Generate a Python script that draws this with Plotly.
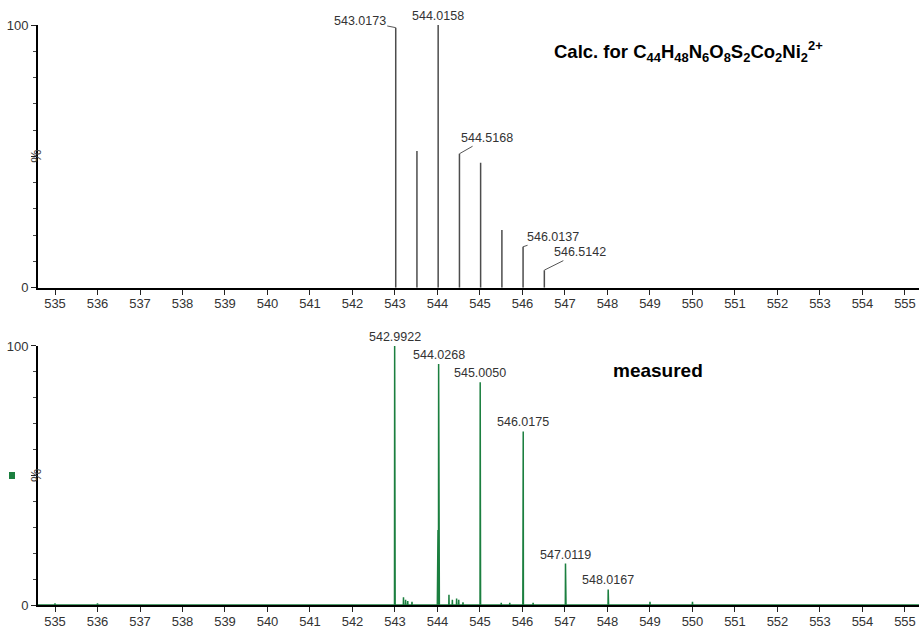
import plotly.graph_objects as go

# ---------------- data ----------------
calc_mz = [543.0173, 543.5166, 544.0158, 544.5168, 545.0149, 545.5155, 546.0137, 546.5142]
calc_int = [99, 52, 100, 51, 47.6, 22, 15.6, 6.7]
calc_labels = ["543.0173", "", "544.0158", "544.5168", "", "", "546.0137", "546.5142"]

meas_mz = [535.00, 536.00, 542.9922, 543.000, 543.20, 543.25, 543.30, 543.40,
           544.000, 544.012, 544.0268, 544.040, 544.27, 544.35, 544.45, 544.50, 544.60,
           545.0050, 545.010, 545.50, 545.70, 546.0120, 546.0175, 546.25,
           547.0119, 547.020, 548.0167, 548.022, 549.00, 550.00]
meas_int = [0.6, 0.6, 100, 4, 3, 2, 1.5, 1.2,
            12, 29, 93, 17, 4, 2, 2.5, 2, 1,
            86, 46, 0.8, 0.8, 52, 67, 0.8,
            16, 11, 6, 4, 1.2, 1.2]
meas_labels = {542.9922: "542.9922", 544.0268: "544.0268", 545.0050: "545.0050",
               546.0175: "546.0175", 547.0119: "547.0119", 548.0167: "548.0167"}

x_ticks = list(range(535, 556))
x_range = [534.6, 555.33]

GRAY = "#4d4d4d"
GREEN = "#1b7f3f"
TXT = "#333333"
FONT = "Liberation Sans, Arial, sans-serif"
NARROW = "Liberation Sans Narrow, Arial Narrow, Liberation Sans, Arial, sans-serif"

# ---------------- traces ----------------
sx, sy = [], []
for m, h in zip(calc_mz, calc_int):
    sx += [m, m, None]
    sy += [0, h, None]

pairs = sorted(zip(meas_mz, meas_int))
w = 0.004
px, py = [x_range[0]], [0]
for m, h in pairs:
    px += [m - w, m, m + w]
    py += [0, h, 0]
px.append(x_range[1])
py.append(0)

fig = go.Figure()
fig.add_trace(go.Scatter(x=sx, y=sy, mode="lines", line=dict(color=GRAY, width=1.5),
                         xaxis="x", yaxis="y", hoverinfo="skip", showlegend=False, cliponaxis=False))
fig.add_trace(go.Scatter(x=px, y=py, mode="lines", line=dict(color=GREEN, width=1.5),
                         xaxis="x2", yaxis="y2", hoverinfo="skip", showlegend=False, cliponaxis=False))

axis_x = dict(range=x_range, tickmode="array", tickvals=x_ticks, ticktext=[str(t) for t in x_ticks],
              ticks="outside", ticklen=5, tickwidth=1, tickcolor="#222", showline=True,
              linecolor="black", linewidth=2, showgrid=False, zeroline=False, automargin=False,
              ticklabelstandoff=-2,
              tickfont=dict(family=FONT, size=13, color=TXT), layer="below traces")
axis_y = dict(range=[0, 100], tickmode="array", tickvals=[0, 50, 100], ticktext=["0", " ", "100"],
              ticks="outside", ticklen=5, tickwidth=1, tickcolor="#222", showline=True,
              linecolor="black", linewidth=2, showgrid=False, zeroline=False, automargin=False,
              tickfont=dict(family=FONT, size=13, color=TXT),
              minor=dict(tickvals=[10, 20, 30, 40, 60, 70, 80, 90], ticks="outside", ticklen=3,
                         tickcolor="#444", showgrid=False))

fig.update_layout(
    width=919, height=628,
    margin=dict(l=38, r=0, t=25, b=23, autoexpand=False),
    paper_bgcolor="white", plot_bgcolor="white",
    xaxis=dict(axis_x, anchor="y"),
    yaxis=dict(axis_y, domain=[0.547, 1.0], anchor="x"),
    xaxis2=dict(axis_x, anchor="y2"),
    yaxis2=dict(axis_y, domain=[0.0, 0.4466], anchor="x2"),
)

ann = []
lead = {"543.0173": (-36, -7), "544.5168": (28, -16), "546.0137": (30, -10), "546.5142": (36, -18)}
for m, h, lab in zip(calc_mz, calc_int, calc_labels):
    if not lab:
        continue
    if lab in lead:
        ax, ay = lead[lab]
        ann.append(dict(x=m, y=h, xref="x", yref="y", text=lab, showarrow=True, arrowhead=0,
                        arrowwidth=1, arrowcolor="#555", ax=ax, ay=ay, standoff=0,
                        font=dict(family=FONT, size=12.5, color=TXT)))
    else:
        ann.append(dict(x=m, y=h, xref="x", yref="y", text=lab, showarrow=False, yanchor="bottom",
                        font=dict(family=FONT, size=12.5, color=TXT)))
for m, h in zip(meas_mz, meas_int):
    if m in meas_labels:
        ann.append(dict(x=m, y=h, xref="x2", yref="y2", text=meas_labels[m], showarrow=False,
                        yanchor="bottom", font=dict(family=FONT, size=12.5, color=TXT)))

for yr in ["y", "y2"]:
    ann.append(dict(x=-0.0148, y=50, xref="paper", yref=yr, text="%", textangle=-90, showarrow=False,
                    font=dict(family=FONT, size=15, color="#444")))

ann.append(dict(x=546.7, y=90, xref="x", yref="y", xanchor="left", yanchor="middle", showarrow=False,
                text="<b>Calc. for C<sub>44</sub>H<sub>48</sub>N<sub>6</sub>O<sub>8</sub>S<sub>2</sub>"
                     "Co<sub>2</sub>Ni<sub>2</sub><sup>2+</sup></b>",
                font=dict(family=NARROW, size=18.5, color="black")))
ann.append(dict(x=549.2, y=90.5, xref="x2", yref="y2", xanchor="center", yanchor="middle", showarrow=False,
                text="<b>measured</b>", font=dict(family=NARROW, size=19, color="black")))
fig.update_layout(annotations=ann)

fig.add_shape(type="rect", xref="paper", yref="paper", x0=-0.0329, x1=-0.0261,
              y0=(628 - 23 - 479) / 580, y1=(628 - 23 - 472) / 580,
              fillcolor=GREEN, line=dict(width=0))

# remove the page's default 8px body margin so the figure fills the window exactly
fig.write_html("out.html", config={"displayModeBar": False},
               post_script="document.body.style.margin='0';"
                           "document.documentElement.style.overflow='hidden';")
